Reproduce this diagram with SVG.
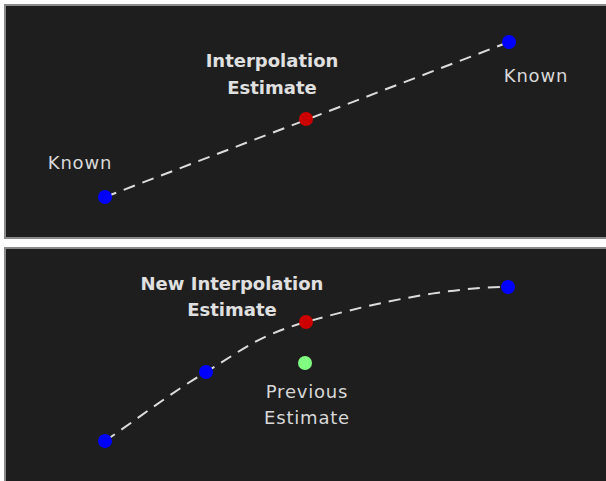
<svg xmlns="http://www.w3.org/2000/svg" width="606" height="481" viewBox="0 0 606 481">
<style>
.panel{fill:#1e1e1e;stroke:#8a8a8a;stroke-width:2}
.conn{fill:none;stroke:#dcdcdc;stroke-width:2;stroke-dasharray:12 8}
.lbl{font-family:"DejaVu Sans",sans-serif;font-size:18px;fill:#d8d8d8;text-anchor:middle;letter-spacing:0.8px}
.blbl{font-family:"DejaVu Sans",sans-serif;font-size:18px;font-weight:bold;fill:#e0e0e0;text-anchor:middle}
.known{fill:#0000ff}
.est{fill:#cc0000}
.prev{fill:#80ff80}
</style>
<rect x="0" y="0" width="606" height="481" fill="#ffffff"/>
<rect class="panel" x="5" y="5" width="610" height="233"/>
<rect class="panel" x="5" y="248" width="610" height="240"/>
<g id="connectors">
<path class="conn" d="M105,197 L509,42"/>
<path class="conn" d="M105,441 C138.7,418 172.5,391.8 206,372 C239.5,352.2 255.7,336.2 306,322 C356.3,307.8 440,287 508,287"/>
</g>
<g id="top-known-left"><circle class="known" cx="105" cy="197" r="7"/><text class="lbl" x="80" y="169">Known</text></g>
<g id="top-estimate"><circle class="est" cx="306" cy="119" r="7"/><text class="blbl" x="272" y="67">Interpolation</text><text class="blbl" x="272" y="94">Estimate</text></g>
<g id="top-known-right"><circle class="known" cx="509" cy="42" r="7"/><text class="lbl" x="536" y="82">Known</text></g>
<g id="bot-known-1"><circle class="known" cx="105" cy="441" r="7"/></g>
<g id="bot-known-2"><circle class="known" cx="206" cy="372" r="7"/></g>
<g id="bot-estimate"><circle class="est" cx="306" cy="322" r="7"/><text class="blbl" x="232" y="290">New Interpolation</text><text class="blbl" x="232" y="316">Estimate</text></g>
<g id="bot-known-3"><circle class="known" cx="508" cy="287" r="7"/></g>
<g id="bot-previous"><circle class="prev" cx="305" cy="363" r="7"/><text class="lbl" x="307" y="398">Previous</text><text class="lbl" x="307" y="424">Estimate</text></g>
</svg>
